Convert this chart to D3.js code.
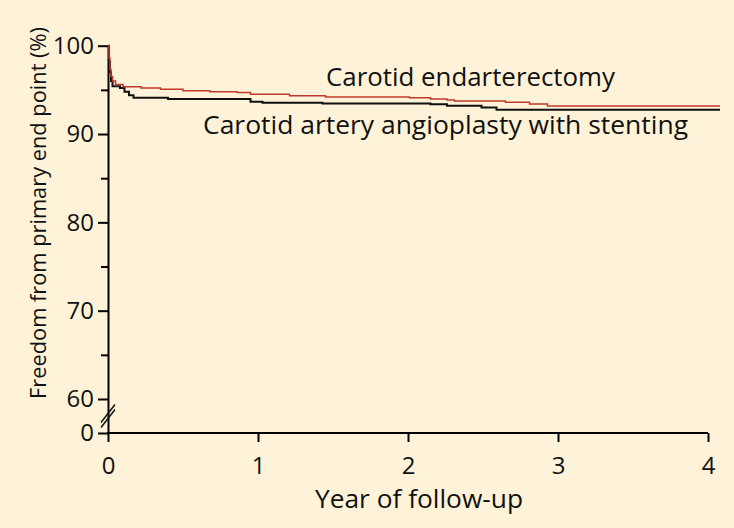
<!DOCTYPE html>
<html>
<head>
<meta charset="utf-8">
<script src="https://cdn.jsdelivr.net/npm/d3@7"></script>
<style>
  body { margin: 0; background: #fef3d8; }
  svg text { font-family: "Open Sans", "Noto Sans", sans-serif; fill: #111; }
</style>
</head>
<body>
<svg id="chart" width="734" height="528"></svg>
<script>
"use strict";

// Kaplan-Meier style curves (year, % free of end point)
var endarterectomyYears = [0, 0.007, 0.013, 0.02, 0.03, 0.05, 0.1, 0.22, 0.35, 0.5, 0.68, 0.86, 0.95, 1.21, 1.45, 2.01, 2.15, 2.26, 2.31, 2.65, 2.81, 2.93, 4.08];
var endarterectomyValues = [100, 98.6, 97.3, 96.5, 96.0, 95.6, 95.35, 95.2, 95.06, 94.9, 94.8, 94.7, 94.5, 94.34, 94.2, 94.1, 93.96, 93.85, 93.74, 93.6, 93.4, 93.17, 93.17];
var stentingYears = [0, 0.007, 0.013, 0.02, 0.03, 0.08, 0.11, 0.14, 0.17, 0.4, 0.95, 1.03, 1.43, 2.15, 2.26, 2.49, 2.59, 4.08];
var stentingValues = [100, 98.2, 97.0, 96.0, 95.4, 95.2, 94.8, 94.4, 94.1, 93.96, 93.66, 93.55, 93.47, 93.36, 93.2, 93.0, 92.75, 92.75];

var xTicks = [0, 1, 2, 3, 4];
var yTicks = [0, 60, 70, 80, 90, 100];
var yMinorTicks = [65, 75, 85, 95];
var seriesNames = ["Carotid endarterectomy", "Carotid artery angioplasty with stenting"];

var svg = d3.select("#chart");

svg.append("rect")
	.attr("width", 734)
	.attr("height", 528)
	.style("fill", "#fef3d8");

var x = d3.scaleLinear().domain([0, 4]).range([108, 708]);
//broken axis: 0 sits just under 60
var y = d3.scaleLinear().domain([0, 60, 100]).range([433, 399, 45.7]);

//x axis
var xAxis = svg.append("g")
	.attr("transform", "translate(0," + y(0) + ")")
	.call(d3.axisBottom(x).tickValues(xTicks).tickFormat(d3.format("d")).tickSize(9).tickSizeOuter(0).tickPadding(15));
xAxis.select(".domain").attr("d", "M" + (x(0) - 1) + ",0H" + x(4)).style("stroke-width", "2px");
xAxis.selectAll(".tick line").style("stroke-width", "2px");
xAxis.selectAll("text").style("font-size", "24px").attr("fill", "#111");

//y axis, major ticks
var yAxis = svg.append("g")
	.attr("transform", "translate(" + x(0) + ",0)")
	.call(d3.axisLeft(y).tickValues(yTicks).tickFormat(d3.format("d")).tickSize(10).tickSizeOuter(0).tickPadding(4));
yAxis.select(".domain").style("stroke-width", "2px");
yAxis.selectAll(".tick line").style("stroke-width", "2px");
yAxis.selectAll("text").style("font-size", "24px").attr("fill", "#111");

//y axis, minor ticks
var yMinor = svg.append("g")
	.attr("transform", "translate(" + x(0) + ",0)")
	.call(d3.axisLeft(y).tickValues(yMinorTicks).tickSize(7).tickFormat(""));
yMinor.select(".domain").remove();
yMinor.selectAll(".tick line").style("stroke-width", "2px");

//the break marks between 0 and 60
var breakY = (y(0) + y(60)) / 2;
[-2.5, 2.5].forEach(function(off){
	svg.append("line")
		.attr("x1", x(0) - 7).attr("y1", breakY + off + 9)
		.attr("x2", x(0) + 7).attr("y2", breakY + off - 9)
		.style("stroke", "#111")
		.style("stroke-width", "1.5px");
});

var line = d3.line()
	.x(function(d){ return x(d[0]); })
	.y(function(d){ return y(d[1]); })
	.curve(d3.curveStepAfter);

svg.append("path")
	.datum(d3.zip(stentingYears, stentingValues))
	.attr("d", line)
	.style("fill", "none")
	.style("stroke", "#111")
	.style("stroke-width", "2px");

svg.append("path")
	.datum(d3.zip(endarterectomyYears, endarterectomyValues))
	.attr("d", line)
	.style("fill", "none")
	.style("stroke", "#c0392b")
	.style("stroke-width", "1.5px");

//curve labels
svg.append("text")
	.attr("x", 326)
	.attr("y", 86)
	.attr("textLength", 289)
	.attr("lengthAdjust", "spacingAndGlyphs")
	.style("font-size", "25px")
	.text(seriesNames[0]);

svg.append("text")
	.attr("x", 203)
	.attr("y", 134)
	.attr("textLength", 485)
	.attr("lengthAdjust", "spacingAndGlyphs")
	.style("font-size", "25px")
	.text(seriesNames[1]);

//axis titles
svg.append("text")
	.attr("x", 419)
	.attr("y", 508)
	.attr("text-anchor", "middle")
	.attr("textLength", 208)
	.attr("lengthAdjust", "spacingAndGlyphs")
	.style("font-size", "25px")
	.text("Year of follow-up");

svg.append("text")
	.attr("transform", "translate(46,213) rotate(-90)")
	.attr("text-anchor", "middle")
	.style("font-size", "21.8px")
	.text("Freedom from primary end point (%)");
</script>
</body>
</html>
